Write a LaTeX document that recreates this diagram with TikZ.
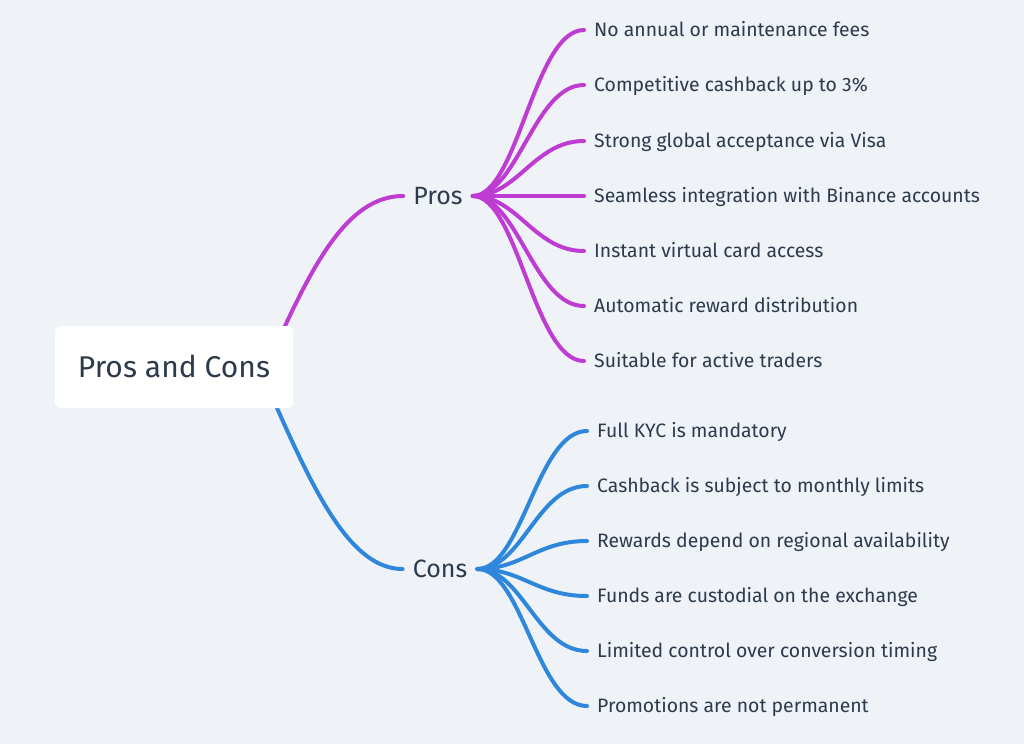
\documentclass[tikz,border=0pt]{standalone}
\usepackage{fontspec}
\setmainfont{Fira Sans}
\usetikzlibrary{positioning}
\definecolor{bg}{HTML}{EFF3F8}
\definecolor{procol}{HTML}{BE3CD2}
\definecolor{concol}{HTML}{2F87DC}
\definecolor{ink}{HTML}{2C3A4B}
\begin{document}
\begin{tikzpicture}[
  x=1pt,y=-1pt,
  every node/.style={text=ink,inner sep=0pt,text depth=0pt},
  leaf/.style={anchor=west,inner xsep=10pt,text height=13.4pt,font=\fontsize{19.4}{22}\selectfont},
  branch/.style={inner xsep=10pt,text height=17.2pt,font=\fontsize{25}{28}\selectfont},
  prolink/.style={procol,line width=4pt,line cap=round},
  conlink/.style={concol,line width=4pt,line cap=round}
]
\fill[bg] (0,0) rectangle (1024,744);
\useasboundingbox (0,0) rectangle (1024,744);
% branches
\node[branch] (pros) at (438,196) {Pros};
\node[branch] (cons) at (440,569) {Cons};
% pros leaves
\node[leaf] (p1) at (584,30) {No annual or maintenance fees};
\node[leaf] (p2) at (584,85) {Competitive cashback up to 3\%};
\node[leaf] (p3) at (584,141) {Strong global acceptance via Visa};
\node[leaf] (p4) at (584,196) {Seamless integration with Binance accounts};
\node[leaf] (p5) at (584,251) {Instant virtual card access};
\node[leaf] (p6) at (584,306) {Automatic reward distribution};
\node[leaf] (p7) at (584,361) {Suitable for active traders};
% cons leaves
\node[leaf] (c1) at (587,431) {Full KYC is mandatory};
\node[leaf] (c2) at (587,486) {Cashback is subject to monthly limits};
\node[leaf] (c3) at (587,541) {Rewards depend on regional availability};
\node[leaf] (c4) at (587,596) {Funds are custodial on the exchange};
\node[leaf] (c5) at (587,651) {Limited control over conversion timing};
\node[leaf] (c6) at (587,706) {Promotions are not permanent};
% links
\coordinate (rootpro) at (285,326);
\coordinate (rootcon) at (277,408);
\draw[prolink] (rootpro) .. controls +(35,-75) and +(-50,0) .. (pros.west);
\draw[conlink] (rootcon) .. controls +(40,90) and +(-50,0) .. (cons.west);
\foreach \i in {1,...,7}
  \draw[prolink] (pros.east) .. controls +(45,0) and +(-50,0) .. (p\i.west);
\foreach \i in {1,...,6}
  \draw[conlink] (cons.east) .. controls +(45,0) and +(-50,0) .. (c\i.west);
% root
\node[fill=white,rounded corners=6pt,minimum width=238pt,minimum height=82pt,
  text height=20.7pt,font=\fontsize{30}{34}\selectfont] (root) at (174,367) {Pros and Cons};
\end{tikzpicture}
\end{document}
